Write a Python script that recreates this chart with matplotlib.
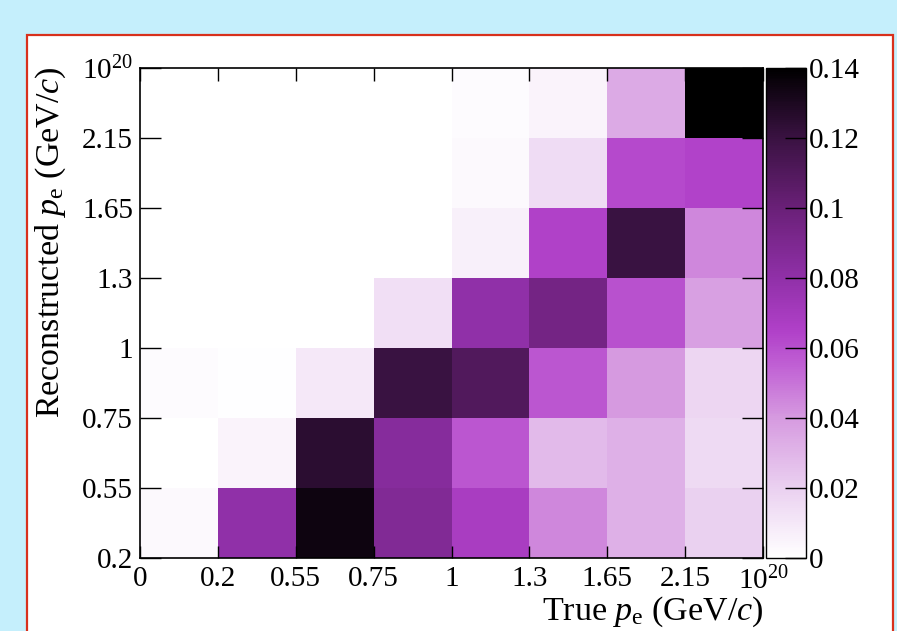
import numpy as np
import matplotlib
matplotlib.use("Agg")
import matplotlib.pyplot as plt
from matplotlib.colors import LinearSegmentedColormap
from matplotlib.patches import Rectangle

plt.rcParams['font.family'] = ['Liberation Serif', 'DejaVu Serif']
plt.rcParams['mathtext.fontset'] = 'custom'
plt.rcParams['mathtext.rm'] = 'Liberation Serif'
plt.rcParams['mathtext.it'] = 'Liberation Serif:italic'

# bin edges (drawn as equal-width bins)
x_edges = ['0', '0.2', '0.55', '0.75', '1', '1.3', '1.65', '2.15', '$10^{20}$']
y_edges = ['0.2', '0.55', '0.75', '1', '1.3', '1.65', '2.15', '$10^{20}$']

# rows from bottom (reco 0.2-0.55) to top (reco 2.15-1e20), columns = true bins
row_0 = [0.003, 0.080, 0.135, 0.088, 0.068, 0.045, 0.032, 0.020]
row_1 = [0.000, 0.005, 0.125, 0.085, 0.058, 0.028, 0.032, 0.016]
row_2 = [0.002, 0.001, 0.010, 0.120, 0.110, 0.058, 0.040, 0.018]
row_3 = [0.000, 0.0005, 0.0005, 0.014, 0.080, 0.095, 0.060, 0.038]
row_4 = [0.000, 0.000, 0.0005, 0.000, 0.007, 0.065, 0.120, 0.045]
row_5 = [0.000, 0.000, 0.000, 0.000, 0.003, 0.015, 0.062, 0.064]
row_6 = [0.000, 0.000, 0.000, 0.000, 0.002, 0.005, 0.034, 0.142]

z = np.array([row_0, row_1, row_2, row_3, row_4, row_5, row_6])

vmax = 0.14
nodes = [(0.0, '#ffffff'), (0.02, '#ead0f0'), (0.04, '#d69ae0'), (0.055, '#c060d4'),
         (0.065, '#b040c8'), (0.08, '#9030a8'), (0.10, '#6a2078'), (0.12, '#3a1242'),
         (0.14, '#000000')]
cmap = LinearSegmentedColormap.from_list('rootpurple', [(v / vmax, c) for v, c in nodes])

fig = plt.figure(figsize=(8.97, 6.31), dpi=100, facecolor='#c5effc')

# white pad with red frame behind everything
bg = fig.add_axes([0, 0, 1, 1], zorder=-5)
bg.set_xlim(0, 897)
bg.set_ylim(631, 0)
bg.axis('off')
bg.add_patch(Rectangle((27, 35), 866, 640, facecolor='white',
                       edgecolor='#d8301c', linewidth=1.6))

ax = fig.add_axes([140 / 897, 73 / 631, 623 / 897, 490 / 631])
cax = fig.add_axes([766 / 897, 73 / 631, 40 / 897, 490 / 631])

mesh = ax.pcolormesh(np.arange(len(x_edges)), np.arange(len(y_edges)), z,
                     cmap=cmap, vmin=0, vmax=vmax)
ax.set_xlim(0, len(x_edges) - 1)
ax.set_ylim(0, len(y_edges) - 1)
ax.set_xticks(np.arange(len(x_edges)))
ax.set_xticklabels(x_edges)
ax.set_yticks(np.arange(len(y_edges)))
ax.set_yticklabels(y_edges)
ax.tick_params(axis='x', direction='in', length=9, width=1, top=True, labelsize=21, pad=6)
ax.tick_params(axis='y', direction='in', length=15, width=1, right=True, labelsize=21, pad=5)
for s in ax.spines.values():
    s.set_linewidth(1.2)

cb = fig.colorbar(mesh, cax=cax)
cb.set_ticks([0, 0.02, 0.04, 0.06, 0.08, 0.1, 0.12, 0.14])
cb.set_ticklabels(['0', '0.02', '0.04', '0.06', '0.08', '0.1', '0.12', '0.14'])
cax.tick_params(direction='in', length=15, width=1, labelsize=21, pad=2)
cb.outline.set_linewidth(1)

fig.text(51 / 897, 1 - 66 / 631, 'Reconstructed $p_{\\mathrm{e}}$ (GeV/$c$)',
         rotation=90, ha='center', va='top', fontsize=24.5)
fig.text(763 / 897, 11 / 631, 'True $p_{\\mathrm{e}}$ (GeV/$c$)',
         ha='right', va='baseline', fontsize=24.5)

fig.savefig('out.png', dpi=100, facecolor=fig.get_facecolor())
